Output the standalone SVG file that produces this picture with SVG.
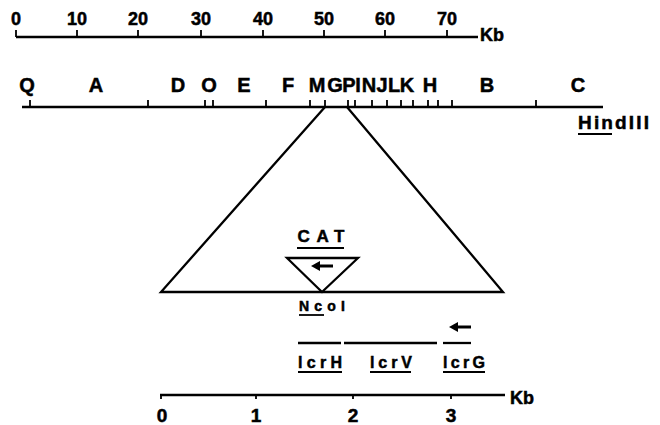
<svg xmlns="http://www.w3.org/2000/svg" width="660" height="425" viewBox="0 0 660 425">
<style>
.t{font-family:"Liberation Sans",Arial,sans-serif;font-weight:bold;fill:#000;stroke:#000;stroke-width:0.5}
.ln{stroke:#000;stroke-width:2.3;fill:none}
.tk{stroke:#000;stroke-width:1.8}
.c{text-anchor:middle}
.ar{stroke:#000;stroke-width:3}
</style>
<defs>
<path id="head" d="M0,0 L9,-5 L9,5 Z" fill="#000"/>
</defs>
<rect width="660" height="425" fill="#fff"/>

<g id="top-scale">
<line class="ln" x1="16" y1="37" x2="478" y2="37"/>
<g class="tk">
<line x1="16" y1="30" x2="16" y2="37"/><line x1="77" y1="30" x2="77" y2="37"/><line x1="138" y1="30" x2="138" y2="37"/><line x1="201" y1="30" x2="201" y2="37"/><line x1="263" y1="30" x2="263" y2="37"/><line x1="324" y1="30" x2="324" y2="37"/><line x1="385" y1="30" x2="385" y2="37"/><line x1="447" y1="30" x2="447" y2="37"/>
</g>
<g class="t c" font-size="18">
<text x="16" y="25">0</text><text x="77" y="25">10</text><text x="138" y="25">20</text><text x="201" y="25">30</text><text x="263" y="25">40</text><text x="324" y="25">50</text><text x="385" y="25">60</text><text x="447" y="25">70</text>
</g>
<text class="t" x="480" y="41" font-size="18">Kb</text>
</g>

<g id="hindiii-map">
<line class="ln" x1="22" y1="107" x2="603" y2="107"/>
<g class="tk">
<line x1="30" y1="100" x2="30" y2="107"/><line x1="148" y1="100" x2="148" y2="107"/><line x1="205" y1="100" x2="205" y2="107"/><line x1="213" y1="100" x2="213" y2="107"/><line x1="266" y1="100" x2="266" y2="107"/><line x1="310" y1="100" x2="310" y2="107"/><line x1="325" y1="100" x2="325" y2="107"/><line x1="348" y1="100" x2="348" y2="107"/><line x1="355" y1="100" x2="355" y2="107"/><line x1="372" y1="100" x2="372" y2="107"/><line x1="387" y1="100" x2="387" y2="107"/><line x1="401" y1="100" x2="401" y2="107"/><line x1="413" y1="100" x2="413" y2="107"/><line x1="428" y1="100" x2="428" y2="107"/><line x1="438" y1="100" x2="438" y2="107"/><line x1="452" y1="100" x2="452" y2="107"/><line x1="536" y1="100" x2="536" y2="107"/>
</g>
<g class="t c" font-size="20">
<text x="27" y="92">Q</text><text x="96" y="92">A</text><text x="178" y="92">D</text><text x="209" y="92">O</text><text x="244" y="92">E</text><text x="288" y="92">F</text><text x="317" y="92">M</text><text x="335" y="92">G</text><text x="349" y="92">P</text><text x="358" y="92">I</text><text x="369" y="92">N</text><text x="382" y="92">J</text><text x="394" y="92">L</text><text x="407" y="92">K</text><text x="430" y="92">H</text><text x="487" y="92">B</text><text x="578" y="92">C</text>
</g>
<text class="t" x="578" y="129" font-size="19" textLength="71" lengthAdjust="spacing">HindIII</text>
<line class="tk" x1="578" y1="134" x2="612" y2="134"/>
</g>

<g id="insert-expansion">
<polyline class="ln" points="325,107 161,292 503,292 347,107"/>
</g>

<g id="cat-cassette">
<text class="t c" x="321" y="242" font-size="17" textLength="47" lengthAdjust="spacing">CAT</text>
<line class="tk" x1="297" y1="248" x2="344" y2="248"/>
<polygon class="ln" points="287,258 358,258 322,292"/>
<line class="ar" x1="318" y1="266" x2="333" y2="266"/>
<use href="#head" x="311" y="266"/>
<text class="t" x="299" y="311" font-size="14" textLength="46" lengthAdjust="spacing">NcoI</text>
<line class="tk" x1="299" y1="315" x2="324" y2="315"/>
</g>

<g id="genes">
<line class="ln" x1="298" y1="343" x2="341" y2="343"/>
<line class="ln" x1="344" y1="343" x2="437" y2="343"/>
<line class="ln" x1="443" y1="343" x2="471" y2="343"/>
<line class="ar" x1="456" y1="327" x2="471" y2="327"/>
<use href="#head" x="449" y="327"/>
<text class="t" x="298" y="368" font-size="16" textLength="44" lengthAdjust="spacing">lcrH</text>
<line class="tk" x1="298" y1="372" x2="342" y2="372"/>
<text class="t" x="370" y="368" font-size="16" textLength="42" lengthAdjust="spacing">lcrV</text>
<line class="tk" x1="370" y1="372" x2="411" y2="372"/>
<text class="t" x="443" y="368" font-size="16" textLength="42" lengthAdjust="spacing">lcrG</text>
<line class="tk" x1="443" y1="372" x2="485" y2="372"/>
</g>

<g id="bottom-scale">
<line class="ln" x1="160" y1="395" x2="505" y2="395"/>
<g class="tk">
<line x1="161" y1="395" x2="161" y2="399"/><line x1="256" y1="395" x2="256" y2="399"/><line x1="353" y1="395" x2="353" y2="399"/><line x1="451" y1="395" x2="451" y2="399"/>
</g>
<g class="t c" font-size="19">
<text x="162" y="422">0</text><text x="256" y="422">1</text><text x="353" y="422">2</text><text x="451" y="422">3</text>
</g>
<text class="t" x="510" y="404" font-size="18">Kb</text>
</g>
</svg>
